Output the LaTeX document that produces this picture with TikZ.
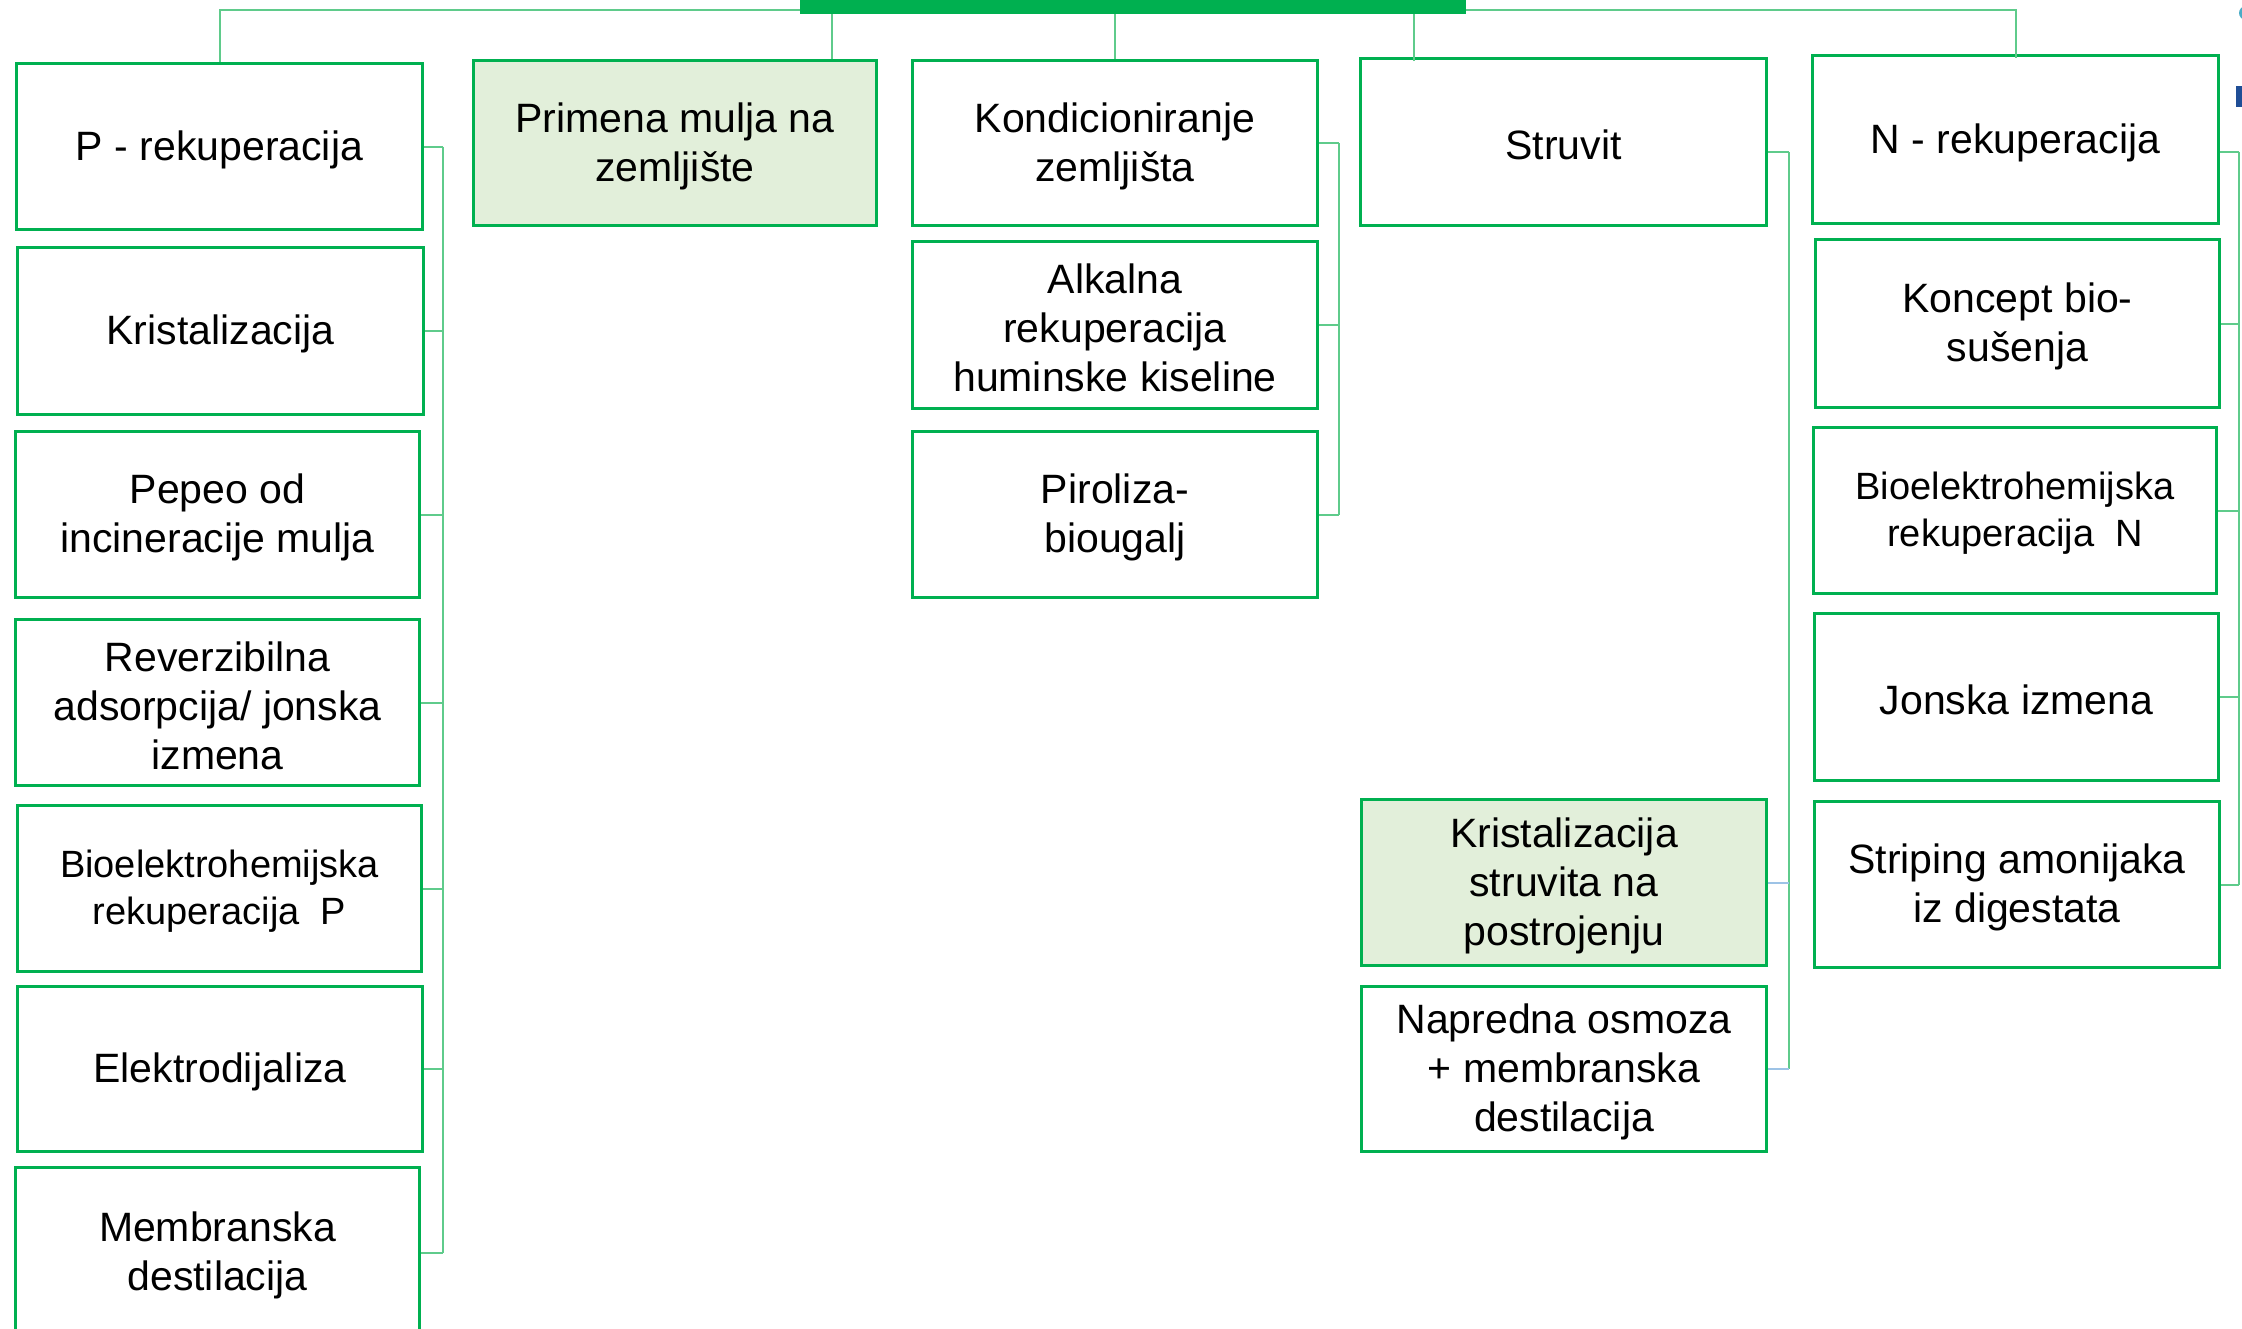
\documentclass[tikz,border=0pt]{standalone}
\usepackage{fontspec}
\setmainfont{Liberation Sans}
\definecolor{boxgreen}{HTML}{00B050}
\definecolor{linegreen}{HTML}{5FCB8B}
\definecolor{fillgreen}{HTML}{E2EFDA}
\definecolor{stubblue}{HTML}{9DC3E6}
\definecolor{fragblue}{HTML}{1F4E96}
\definecolor{fragteal}{HTML}{4BACC6}
\tikzset{
  box/.style={draw=boxgreen, line width=3pt, fill=white, anchor=north west, inner sep=0pt},
  greenbox/.style={box, fill=fillgreen},
  boxtext/.style={align=center, text=black, inner sep=0pt, font=\fontsize{41}{49}\selectfont},
  smalltext/.style={boxtext, font=\fontsize{38}{47}\selectfont},
  conn/.style={draw=linegreen, line width=2pt},
  bconn/.style={draw=stubblue, line width=2pt},
}
% \bx[boxstyle]{name}{x,y}{w}{h}{textstyle}{text}
\newcommand{\bx}[7][box]{%
  \node[#1, minimum width=#4pt, minimum height=#5pt] (#2) at (#3) {};
  \node[#6] (#2-t) at ([yshift=-3pt]#2.center) {#7};}
\begin{document}
\begin{tikzpicture}[x=1pt,y=-1pt]
\useasboundingbox (0,0) rectangle (2242,1328);
% top bar
\node[fill=boxgreen, anchor=north west, inner sep=0pt, minimum width=666pt, minimum height=14pt] (bar) at (800,0) {};
% column 1
\bx{prek}{15,62}{406}{166}{boxtext}{P - rekuperacija}
\bx{krist}{16,246}{406}{167}{boxtext}{Kristalizacija}
\bx{pepeo}{14,430}{404}{166}{boxtext}{Pepeo od\\incineracije mulja}
\bx{rev}{14,618}{404}{166}{boxtext}{Reverzibilna\\adsorpcija/ jonska\\izmena}
\bx{bioP}{16,804}{404}{166}{smalltext}{Bioelektrohemijska\\rekuperacija~ P}
\bx{elek}{16,985}{405}{165}{boxtext}{Elektrodijaliza}
\bx{memb}{14,1166}{404}{170}{boxtext}{Membranska\\destilacija}
% column 2
\bx[greenbox]{prim}{472,59}{403}{165}{boxtext}{Primena mulja na\\zemljište}
% column 3
\bx{kond}{911,59}{405}{165}{boxtext}{Kondicioniranje\\zemljišta}
\bx{alk}{911,240}{405}{167}{boxtext}{Alkalna\\rekuperacija\\huminske kiseline}
\bx{pir}{911,430}{405}{166}{boxtext}{Piroliza-\\biougalj}
% column 4
\bx{struv}{1359,57}{406}{167}{boxtext}{Struvit}
\bx[greenbox]{ks}{1360,798}{405}{166}{boxtext}{Kristalizacija\\struvita na\\postrojenju}
\bx{napr}{1360,985}{405}{165}{boxtext}{Napredna osmoza\\+ membranska\\destilacija}
% column 5
\bx{nrek}{1811,54}{406}{168}{boxtext}{N - rekuperacija}
\bx{konc}{1814,238}{404}{168}{boxtext}{Koncept bio-\\sušenja}
\bx{bioN}{1812,426}{403}{166}{smalltext}{Bioelektrohemijska\\rekuperacija~ N}
\bx{jon}{1813,612}{404}{167}{boxtext}{Jonska izmena}
\bx{strip}{1813,800}{405}{166}{boxtext}{Striping amonijaka\\iz digestata}
% trunk x positions
\coordinate (t1) at (443,0);
\coordinate (t3) at (1339,0);
\coordinate (t4) at (1789,0);
\coordinate (t5) at (2239,0);
% top connectors
\draw[conn] ([yshift=-10pt]bar.north west) -| (prek.north);
\draw[conn] ([yshift=-10pt]bar.north east) -| ([yshift=-4pt]nrek.north);
\draw[conn] ([xshift=157pt]prim.north) -- ([xshift=157pt]prim.north |- bar.south);
\draw[conn] (kond.north) -- (kond.north |- bar.south);
\draw[conn] ([xshift=-150pt,yshift=-4pt]struv.north) -- ([xshift=-150pt]struv.north |- bar.south);
% column 1 bracket
\draw[conn] (prek.east -| t1) -- (memb.east -| t1);
\foreach \n in {prek,krist,pepeo,rev,bioP,elek,memb} { \draw[conn] (\n.east) -- (\n.east -| t1); }
% column 3 bracket
\draw[conn] (kond.east -| t3) -- (pir.east -| t3);
\foreach \n in {kond,alk,pir} { \draw[conn] (\n.east) -- (\n.east -| t3); }
% column 4 bracket
\draw[conn] ([yshift=-10pt]struv.east -| t4) -- (napr.east -| t4);
\draw[conn] ([yshift=-10pt]struv.east) -- ([yshift=-10pt]struv.east -| t4);
\draw[bconn] (ks.east) -- (ks.east -| t4);
\draw[bconn] (napr.east) -- (napr.east -| t4);
% column 5 bracket
\draw[conn] ([yshift=-12pt]nrek.east -| t5) -- (strip.east -| t5);
\draw[conn] ([yshift=-12pt]nrek.east) -- ([yshift=-12pt]nrek.east -| t5);
\foreach \n in {konc,bioN,jon,strip} { \draw[conn] (\n.east) -- (\n.east -| t5); }
% cut-off fragments at the right edge
\fill[fragblue] (2236,86) rectangle (2242,107);
\fill[fragteal] (2246,13) circle (7);
\end{tikzpicture}
\end{document}
